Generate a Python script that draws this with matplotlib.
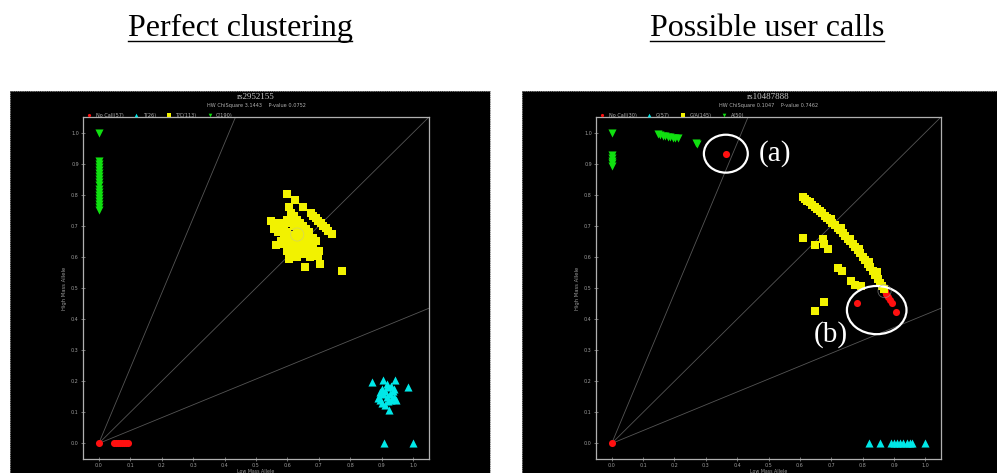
import matplotlib.pyplot as plt
from matplotlib.lines import Line2D
from matplotlib.patches import Ellipse
import numpy as np

# ---- panel 1: rs2952155 ----
p1_nocall_x = [0.0, 0.050, 0.056, 0.062, 0.068, 0.074, 0.080, 0.086, 0.092]
p1_nocall_y = [0.0, 0.0, 0.0, 0.0, 0.0, 0.0, 0.0, 0.0, 0.0]

p1_homo1_x = [0.870, 0.905, 0.943, 0.982, 0.923, 0.907, 1.000,
              0.890, 0.895, 0.900, 0.905, 0.910, 0.915, 0.920, 0.925,
              0.930, 0.935, 0.940, 0.945, 0.910, 0.920, 0.930, 0.900,
              0.895, 0.940, 0.887, 0.915]
p1_homo1_y = [0.198, 0.203, 0.203, 0.181, 0.107, 0.000, 0.000,
              0.150, 0.140, 0.130, 0.160, 0.170, 0.150, 0.180, 0.160,
              0.140, 0.170, 0.150, 0.140, 0.125, 0.135, 0.185, 0.175,
              0.165, 0.175, 0.145, 0.190]

p1_het_x = [0.597, 0.624, 0.650, 0.674, 0.682, 0.690, 0.698, 0.706, 0.714,
            0.722, 0.730, 0.741, 0.557, 0.563, 0.606, 0.656, 0.703, 0.774,
            0.560, 0.580, 0.590, 0.600, 0.610, 0.610, 0.620, 0.620, 0.630,
            0.630, 0.640, 0.640, 0.650, 0.650, 0.660, 0.660, 0.670, 0.670,
            0.680, 0.680, 0.590, 0.600, 0.600, 0.610, 0.610, 0.620, 0.620,
            0.620, 0.630, 0.630, 0.640, 0.640, 0.650, 0.650, 0.660, 0.670,
            0.680, 0.690, 0.580, 0.590, 0.600, 0.630, 0.640, 0.570, 0.580,
            0.690, 0.700, 0.697, 0.672, 0.548, 0.606]
p1_het_y = [0.803, 0.782, 0.760, 0.742, 0.733, 0.725, 0.717, 0.709, 0.700,
            0.692, 0.684, 0.675, 0.690, 0.638, 0.592, 0.568, 0.576, 0.556,
            0.710, 0.710, 0.700, 0.720, 0.740, 0.710, 0.730, 0.700, 0.720,
            0.690, 0.710, 0.680, 0.700, 0.670, 0.690, 0.660, 0.680, 0.650,
            0.660, 0.630, 0.670, 0.680, 0.650, 0.660, 0.630, 0.670, 0.640,
            0.610, 0.660, 0.630, 0.650, 0.620, 0.640, 0.610, 0.630, 0.620,
            0.610, 0.620, 0.650, 0.640, 0.620, 0.600, 0.610, 0.680, 0.690,
            0.650, 0.620, 0.602, 0.600, 0.715, 0.760]

p1_homo2_x = [0.0] * 18
p1_homo2_y = [1.000, 0.910, 0.900, 0.890, 0.880, 0.870, 0.860, 0.850, 0.840,
              0.830, 0.820, 0.810, 0.800, 0.790, 0.780, 0.770, 0.760, 0.750]

# ---- panel 2: rs10487888 ----
p2_nocall_x = [0.0, 0.364, 0.783, 0.870, 0.876, 0.882, 0.888, 0.893, 0.907]
p2_nocall_y = [0.0, 0.932, 0.453, 0.490, 0.480, 0.471, 0.462, 0.453, 0.423]

p2_homo1_x = [0.822, 0.857, 0.891, 0.900, 0.910, 0.920, 0.930, 0.940, 0.950,
              0.957, 1.000]
p2_homo1_y = [0.0] * 11

p2_het_x = [0.610, 0.617, 0.624, 0.632, 0.640, 0.648, 0.656, 0.664, 0.672,
            0.680, 0.688, 0.696, 0.704, 0.712, 0.720, 0.728, 0.736, 0.744,
            0.752, 0.760, 0.768, 0.776, 0.784, 0.792, 0.800, 0.808, 0.816,
            0.824, 0.832, 0.840, 0.848, 0.856, 0.862, 0.868,
            0.700, 0.730, 0.760, 0.790, 0.820, 0.845,
            0.610, 0.647, 0.673, 0.677, 0.691, 0.721, 0.734, 0.764, 0.775,
            0.796, 0.677, 0.647]
p2_het_y = [0.792, 0.787, 0.781, 0.775, 0.768, 0.762, 0.755, 0.748, 0.741,
            0.733, 0.726, 0.718, 0.710, 0.702, 0.694, 0.686, 0.677, 0.668,
            0.659, 0.650, 0.640, 0.631, 0.621, 0.611, 0.600, 0.589, 0.578,
            0.567, 0.555, 0.543, 0.530, 0.517, 0.507, 0.497,
            0.722, 0.692, 0.659, 0.624, 0.585, 0.551,
            0.661, 0.637, 0.659, 0.640, 0.627, 0.565, 0.554, 0.522, 0.511,
            0.506, 0.456, 0.426]

p2_homo2_x = [0.0, 0.0, 0.0, 0.0, 0.0, 0.0, 0.147, 0.155, 0.163, 0.170,
              0.178, 0.186, 0.194, 0.202, 0.210, 0.269, 0.273]
p2_homo2_y = [1.000, 0.927, 0.918, 0.910, 0.902, 0.894, 0.994, 0.992, 0.990,
              0.988, 0.987, 0.985, 0.984, 0.982, 0.981, 0.967, 0.962]

panels = [
    dict(snp="rs2952155", stats="HW ChiSquare 3.1443    P-value 0.0752",
         labels=["No Call(57)", "T(26)", "T/C(113)", "C(190)"],
         data=[(p1_nocall_x, p1_nocall_y), (p1_homo1_x, p1_homo1_y),
               (p1_het_x, p1_het_y), (p1_homo2_x, p1_homo2_y)]),
    dict(snp="rs10487888", stats="HW ChiSquare 0.1047    P-value 0.7462",
         labels=["No Call(30)", "G(57)", "G/A(145)", "A(50)"],
         data=[(p2_nocall_x, p2_nocall_y), (p2_homo1_x, p2_homo1_y),
               (p2_het_x, p2_het_y), (p2_homo2_x, p2_homo2_y)]),
]

colors = ["#ff1010", "#00e8e8", "#f2f200", "#10e010"]
markers = ["o", "^", "s", "v"]
sizes = [26, 34, 30, 34]
guide_angles = [22.5, 45.0, 67.5]
ticks = [0.0, 0.1, 0.2, 0.3, 0.4, 0.5, 0.6, 0.7, 0.8, 0.9, 1.0]

W, H = 997, 473
fig = plt.figure(figsize=(W / 100, H / 100), dpi=100)
fig.patch.set_facecolor("white")


def px(x0, y0, x1, y1):
    # pixel box (top-left origin) -> figure fraction rect
    return [x0 / W, 1 - y1 / H, (x1 - x0) / W, (y1 - y0) / H]


# black screenshot backgrounds
bg_boxes = [(10, 91, 490, 473), (522, 91, 997, 473)]
plot_boxes = [(83, 117, 429, 459), (596, 117, 941, 459)]
centers = [240, 767]
headings = ["Perfect clustering", "Possible user calls"]

axes = []
for bg, box, panel in zip(bg_boxes, plot_boxes, panels):
    bax = fig.add_axes(px(*bg))
    bax.set_facecolor("black")
    bax.set_xticks([])
    bax.set_yticks([])
    for s in bax.spines.values():
        s.set_color("#888888")
        s.set_linestyle(":")
        s.set_linewidth(0.6)

    ax = fig.add_axes(px(*box))
    ax.set_facecolor("black")
    ax.set_xlim(-0.05, 1.05)
    ax.set_ylim(-0.05, 1.05)

    for a in guide_angles:
        t = np.tan(np.radians(a))
        if t <= 1:
            ax.plot([0, 1.05], [0, 1.05 * t], color="#555555", lw=0.6, zorder=1)
        else:
            ax.plot([0, 1.05 / t], [0, 1.05], color="#555555", lw=0.6, zorder=1)

    for (xs, ys), c, m, s, lab in zip(panel["data"], colors, markers, sizes,
                                       panel["labels"]):
        ax.scatter(xs, ys, c=c, marker=m, s=s, linewidths=0, label=lab, zorder=3)

    ax.set_xticks(ticks)
    ax.set_yticks(ticks)
    ax.set_xticklabels([f"{t:.1f}" for t in ticks])
    ax.set_yticklabels([f"{t:.1f}" for t in ticks])
    ax.tick_params(direction="inout", length=3, width=0.5, colors="#9a9a9a",
                   labelsize=3.5, pad=1.5)
    for s in ax.spines.values():
        s.set_color("#b0b0b0")
        s.set_linewidth(0.9)
    ax.set_ylabel("High Mass Allele", color="#9a9a9a", fontsize=3.8, labelpad=3)
    ax.set_xlabel("Low Mass Allele", color="#9a9a9a", fontsize=3.4, labelpad=0.5)

    ax.legend(loc="lower left", bbox_to_anchor=(0.0, 0.995), ncol=4,
              frameon=False, fontsize=3.6, labelcolor="#b0b0b0",
              handletextpad=0.3, columnspacing=1.6, markerscale=0.45,
              borderaxespad=0.1, borderpad=0.1)

    cx = (box[0] + box[2]) / 2 / W
    fig.text(cx, 1 - 97 / H, panel["snp"], ha="center", va="center",
             color="#c8c8c8", fontsize=6.5, family="Liberation Serif")
    fig.text(cx, 1 - 105.5 / H, panel["stats"], ha="center", va="center",
             color="#b0b0b0", fontsize=3.6)
    axes.append(ax)

# headings with underline
fig.canvas.draw()
renderer = fig.canvas.get_renderer()
for cxp, txt in zip(centers, headings):
    t = fig.text(cxp / W, 1 - 28 / H, txt, ha="center", va="center",
                 fontsize=23, family="Liberation Serif", color="black")
    bb = t.get_window_extent(renderer).transformed(fig.transFigure.inverted())
    fig.add_artist(Line2D([bb.x0, bb.x1], [1 - 41 / H, 1 - 41 / H],
                          transform=fig.transFigure, color="black", lw=1.0))

# user-call annotations on the second panel
ax2 = axes[1]
ax2.add_patch(Ellipse((0.364, 0.932), 0.14, 0.122, fill=False,
                      edgecolor="white", lw=1.6, zorder=4))
ax2.text(0.47, 0.932, "(a)", color="white", fontsize=21,
         family="Liberation Serif", va="center", ha="left", zorder=5)
ax2.add_patch(Ellipse((0.845, 0.429), 0.19, 0.155, fill=False,
                      edgecolor="white", lw=1.6, zorder=4))
ax2.text(0.645, 0.35, "(b)", color="white", fontsize=21,
         family="Liberation Serif", va="center", ha="left", zorder=5)

# faint cluster-centre rings
axes[0].scatter([0.631], [0.672], s=90, facecolors="none",
                edgecolors="#c0c0a0", linewidths=0.6, alpha=0.5, zorder=4)
ax2.scatter([0.870], [0.490], s=90, facecolors="none",
            edgecolors="#a0a0a0", linewidths=0.6, alpha=0.6, zorder=4)

fig.savefig("out.png", dpi=100, facecolor=fig.get_facecolor())
